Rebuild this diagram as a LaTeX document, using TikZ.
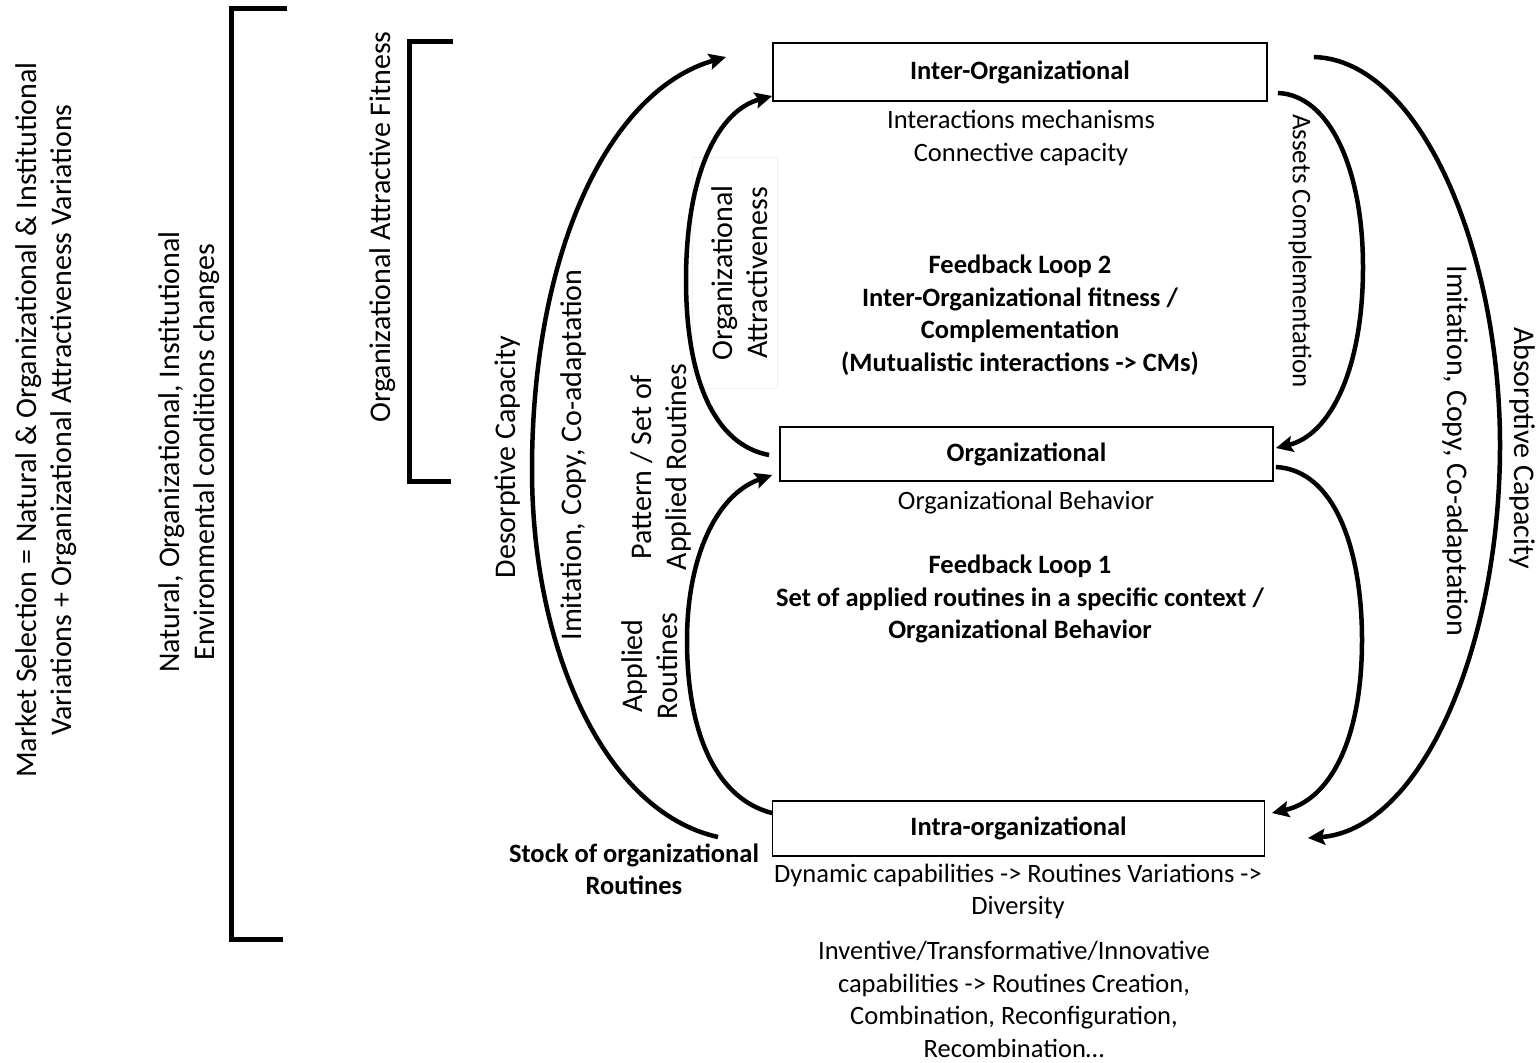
\documentclass[tikz,border=0pt]{standalone}
\usepackage{fontspec}
\setmainfont{Carlito}
\usetikzlibrary{arrows.meta,calc}
\begin{document}
\begin{tikzpicture}[x=1pt,y=-1pt,
  box/.style={draw,line width=1.8pt,inner sep=0pt,font=\fontsize{26.5}{32}\selectfont\bfseries},
  ctext/.style={align=center,font=\fontsize{26.5}{32.5}\selectfont,inner sep=0pt},
  btext/.style={align=center,font=\fontsize{26.5}{32.5}\selectfont\bfseries,inner sep=0pt},
  vtext/.style={align=center,font=\fontsize{30}{35}\selectfont,inner sep=0pt},
  arc/.style={line width=4.5pt,-{Stealth[length=17pt,width=16pt,inset=3pt]}},
  bracket/.style={line width=5pt}]
\useasboundingbox (0,0) rectangle (1540,1063);

% boxes
\node[box,minimum width=494pt,minimum height=58pt] (inter) at (1020,72) {Inter-Organizational};
\node[box,minimum width=493pt,minimum height=54pt] (org) at (1026.5,454) {Organizational};
\node[box,minimum width=492pt,minimum height=55pt] (intra) at (1018.5,828.5) {Intra-organizational};

% central texts
\node[ctext] (intertxt) at (1021,138) {Interactions mechanisms\\Connective capacity};
\node[btext] (fl2) at (1020,315) {Feedback Loop 2\\Inter-Organizational fitness /\\Complementation\\(Mutualistic interactions -> CMs)};
\node[ctext] (orgtxt) at (1026,503) {Organizational Behavior};
\node[btext] (fl1) at (1020,599) {Feedback Loop 1\\Set of applied routines in a specific context /\\Organizational Behavior};
\node[ctext] (dyn) at (1018,891.5) {Dynamic capabilities -> Routines Variations ->\\Diversity};
\node[ctext] (inv) at (1014,999.5) {Inventive/Transformative/Innovative\\capabilities -> Routines Creation,\\Combination, Reconfiguration,\\Recombination…};
\node[btext] (stock) at (634,869.5) {Stock of organizational\\Routines};

% rotated texts left
\node[vtext,rotate=90] (market) at (46.5,420) {Market Selection = Natural \& Organizational \& Institutional\\Variations + Organizational Attractiveness Variations};
\node[vtext,rotate=90] (natural) at (189.5,452) {Natural, Organizational, Institutional\\Environmental conditions changes};
\node[vtext,rotate=90] (oaf) at (383,227) {Organizational Attractive Fitness};
\node[vtext,rotate=90] (desorp) at (508,457) {Desorptive Capacity};
\node[vtext,rotate=90] (imitL) at (573,455) {Imitation, Copy, Co-adaptation};
\node[vtext,rotate=90] (pattern) at (660.5,467) {Pattern / Set of\\Applied Routines};
\node[vtext,rotate=90] (applied) at (650,666) {Applied\\Routines};
\draw[black!5,line width=0.8pt] (692,157) rectangle (777,388);
\node[vtext,rotate=90] (orgattr) at (739.5,273) {Organizational\\Attractiveness};

% rotated texts right
\node[vtext,rotate=-90,font=\fontsize{27}{32}\selectfont] (assets) at (1300,251) {Assets Complementation};
\node[vtext,rotate=-90] (imitR) at (1455,451) {Imitation, Copy, Co-adaptation};
\node[vtext,rotate=-90] (absorp) at (1522,448) {Absorptive Capacity};

% brackets
\draw[bracket] (287,8) -- (231,8) -- (231,939) -- (283,939);
\draw[bracket] (453,41) -- (409,41) -- (409,481) -- (451,481);

% arc end points
\coordinate (l1s) at (718,837);
\coordinate (l1e) at ($(inter.west)+(-46,-15)$);
\coordinate (l2s) at ($(org.west)+(-10,1)$);
\coordinate (l2e) at ($(inter.west)+(0,24)$);
\coordinate (l3s) at ($(intra.west)+(0.5,-15.5)$);
\coordinate (l3e) at ($(org.west)+(-7,21)$);
\coordinate (r1s) at ($(inter.east)+(10,21)$);
\coordinate (r1e) at ($(org.east)+(2,-6)$);
\coordinate (r2s) at ($(org.east)+(2,13)$);
\coordinate (r2e) at ($(intra.east)+(6.5,-15.5)$);
\coordinate (r3s) at ($(inter.east)+(46,-15)$);
\coordinate (r3e) at ($(intra.east)+(42.5,9.5)$);

% arcs
\draw[arc] (l1s) .. controls (605,812) and (532,650) .. (532,470) .. controls (532,250) and (610,90) .. (l1e);
\draw[arc] (l2s) .. controls (715,445) and (686,380) .. (686,280) .. controls (686,170) and (720,110) .. (l2e);
\draw[arc] (l3s) .. controls (720,800) and (687,740) .. (687,640) .. controls (687,560) and (715,495) .. (l3e);
\draw[arc] (r1s) .. controls (1330,95) and (1363,170) .. (1363,267) .. controls (1363,370) and (1330,435) .. (r1e);
\draw[arc] (r2s) .. controls (1335,470) and (1362,550) .. (1362,640) .. controls (1362,740) and (1330,800) .. (r2e);
\draw[arc] (r3s) .. controls (1420,60) and (1500,250) .. (1500,445) .. controls (1500,650) and (1420,830) .. (r3e);
\end{tikzpicture}
\end{document}
